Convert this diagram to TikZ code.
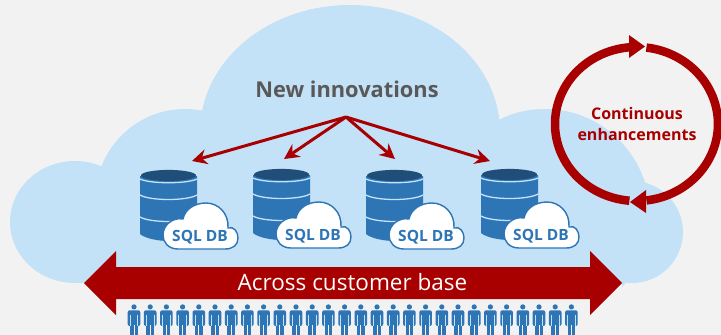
\documentclass[tikz,border=0pt]{standalone}
\usepackage{fontspec}
\setmainfont{Open Sans}
\definecolor{bgc}{HTML}{F2F2F2}
\definecolor{skyc}{HTML}{C3E1F7}
\definecolor{dbc}{HTML}{2E75B6}
\definecolor{dbtop}{HTML}{1F4E79}
\definecolor{redc}{HTML}{A80000}
\definecolor{greyc}{HTML}{595959}
\usetikzlibrary{arrows.meta}
\tikzset{
  sky/.style={fill=skyc,draw=none},
  feed/.style={draw=redc,line width=3pt,-{Stealth[length=15pt,width=15pt]}},
  ring/.style={draw=redc,line width=8.5pt},
  rim/.style={draw=skyc,line width=1.3pt},
  dblabel/.style={text=dbc,font=\fontsize{15.5}{15.5}\selectfont\bfseries,inner sep=0pt},
}
\newcommand{\dbicon}[3]{%
 \begin{scope}[shift={(#1,#2)}]
  \fill[dbc] (0,6) -- (0,64) .. controls (6,69) and (20,71) .. (28,71) .. controls (38,71) and (51,69) .. (57,64) -- (57,6) -- cycle;
  \draw[rim] (0,9) .. controls (10,14) and (47,14) .. (57,9);
  \draw[rim] (0,25) .. controls (10,31) and (47,31) .. (57,25);
  \draw[rim] (0,47) .. controls (10,53) and (47,53) .. (57,47);
  \fill[dbtop] (28.5,5.5) ellipse [x radius=27.5pt,y radius=5.6pt];
  \path[fill=white,draw=dbc,line width=1.4pt] (38,79) .. controls (28,79) and (23,72) .. (23,65) .. controls (23,55) and (33,47) .. (43,49) .. controls (45,39) and (55,33) .. (66,33) .. controls (78,33) and (89,43) .. (88,58) .. controls (94,56) and (98,62) .. (98,68) .. controls (98,75) and (93,79) .. (85,79) -- cycle;
  \node[dblabel] (#3) at (60,67) {SQL DB};
 \end{scope}}
\newcommand{\persona}[1]{%
 \begin{scope}[shift={(#1,305)}]
  \fill[dbc] (0,1.9) circle (2.6pt);
  \fill[dbc,rounded corners=2pt] (-6.3,5.3) rectangle (6.3,21);
  \fill[dbc] (-3.8,15) rectangle (3.8,30);
  \draw[skyc,line width=.7pt] (-3.8,10) -- (-3.8,21) (3.8,10) -- (3.8,21);
  \draw[bgc,line width=.9pt] (0,20) -- (0,30);
 \end{scope}}
\begin{document}
\begin{tikzpicture}[x=1pt,y=-1pt]
\useasboundingbox (0,0) rectangle (721,335);
\fill[bgc] (0,0) rectangle (721,335);
% big cloud
\fill[sky] (75,222) ellipse [x radius=65pt,y radius=61pt];
\fill[sky] (185,200) ellipse [x radius=90pt,y radius=91pt];
\fill[sky] (350,132) ellipse [x radius=150pt,y radius=127pt];
\fill[sky] (545,215) ellipse [x radius=105pt,y radius=106pt];
\fill[sky] (632,232) circle (51pt);
\fill[sky] (75,180) rectangle (632,283);
% people strip
\fill[bgc] (84,283) rectangle (622,335);
\foreach \i in {0,...,27} {\pgfmathsetmacro{\px}{134+16.2*\i}\persona{\px}}
% bar
\fill[redc] (84,283) -- (116,251) -- (116,267) -- (590,267) -- (590,251) -- (622,283) -- (590,315) -- (590,299) -- (116,299) -- (116,315) -- cycle;
\node[text=white,font=\fontsize{22.5}{22.5}\selectfont,inner sep=0pt] (base) at (352.5,282) {Across customer base};
% title
\node[text=greyc,font=\fontsize{21.8}{22}\selectfont\bfseries,inner sep=0pt] (title) at (347,89) {New innovations};
% databases
\dbicon{140}{170}{sqla}
\dbicon{253}{169}{sqlb}
\dbicon{366}{170}{sqlc}
\dbicon{481}{169}{sqld}
% arrows
\coordinate (apex) at (346,117);
\coordinate (ta) at (192,161);
\coordinate (tb) at (284,159);
\coordinate (tc) at (395,159);
\coordinate (td) at (490,161);
\foreach \t in {ta,tb,tc,td} \draw[feed] (apex) -- (\t);
% ring
\draw[ring] plot[domain=-83:83,samples=60] ({636.5+81.5*cos(\x)},{124+77*sin(\x)});
\draw[ring] plot[domain=95:265,samples=60] ({636.5+81.5*cos(\x)},{124+77*sin(\x)});
\fill[redc] (629,35) -- (645,46.5) -- (629,58) -- cycle;
\fill[redc] (646,190) -- (630,202) -- (646,213) -- cycle;
\node[text=redc,font=\fontsize{16}{21}\selectfont\bfseries,align=center,inner sep=0pt] (cont) at (637,124) {Continuous\\enhancements};
\end{tikzpicture}
\end{document}
